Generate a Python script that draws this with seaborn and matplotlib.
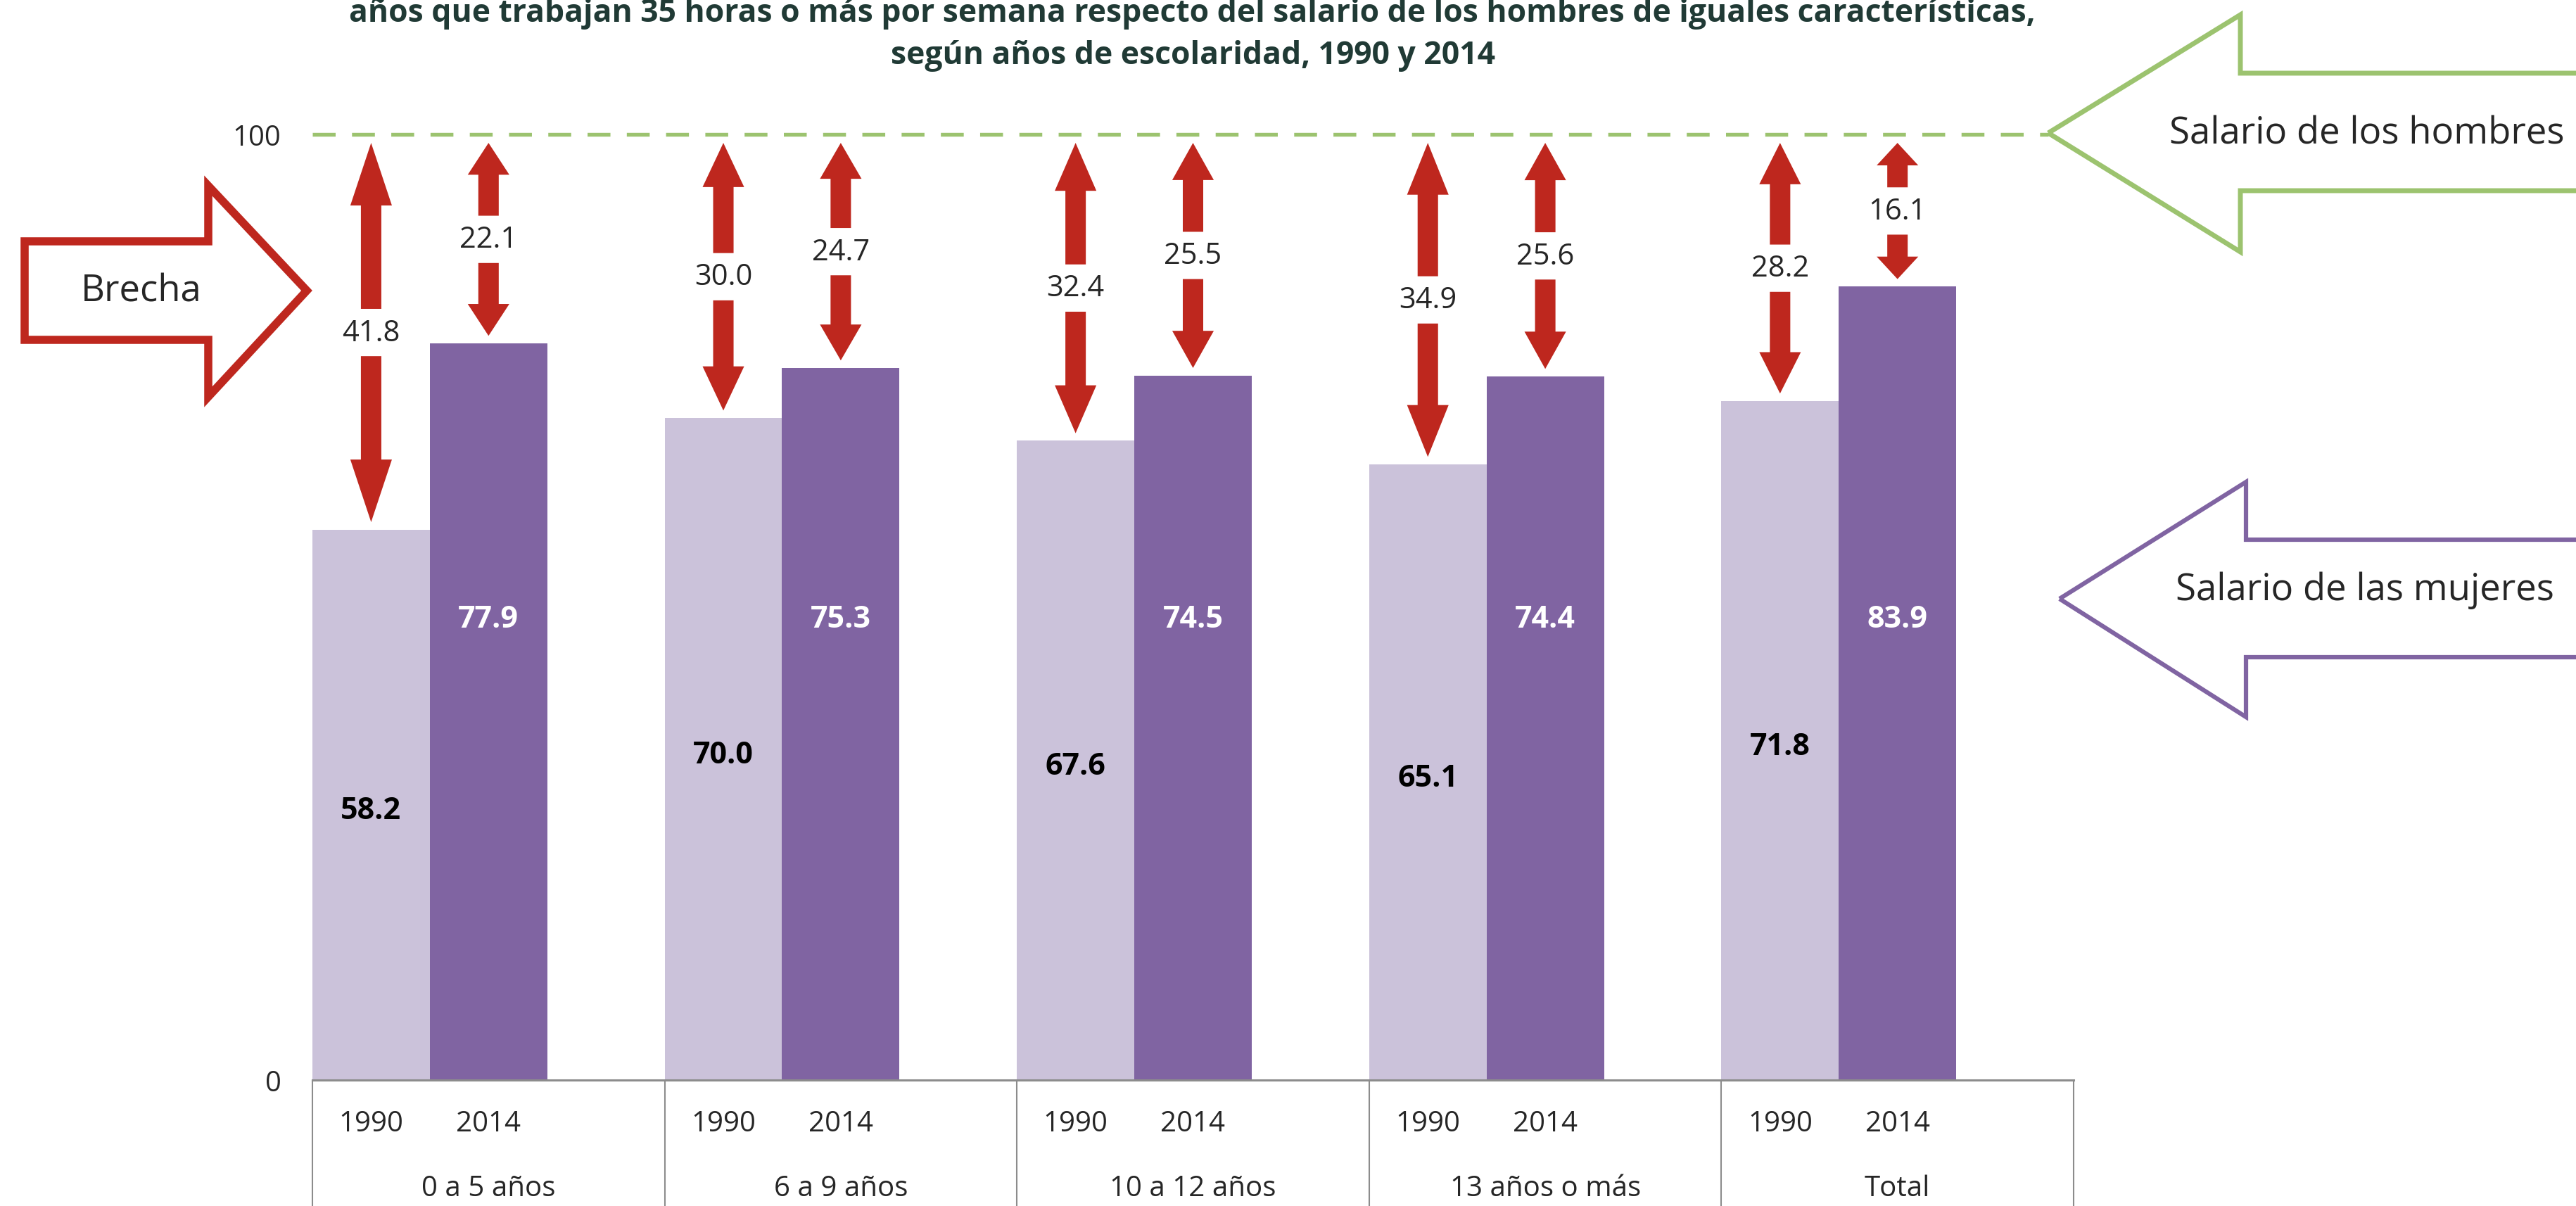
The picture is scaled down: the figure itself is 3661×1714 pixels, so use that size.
import numpy as np
import pandas as pd
import matplotlib
matplotlib.use('Agg')
import matplotlib.pyplot as plt
import matplotlib.transforms as mtransforms
from matplotlib.patches import Polygon
import seaborn as sns

# data
grupos = ['0 a 5 años', '6 a 9 años', '10 a 12 años', '13 años o más', 'Total']
anios = ['1990', '2014']
salario_1990 = [58.2, 70.0, 67.6, 65.1, 71.8]
salario_2014 = [77.9, 75.3, 74.5, 74.4, 83.9]
referencia = 100
titulo_l1 = 'años que trabajan 35 horas o más por semana respecto del salario de los hombres de iguales características,'
titulo_l2 = 'según años de escolaridad, 1990 y 2014'

c_1990 = '#CBC2DA'
c_2014 = '#8064A2'
c_rojo = '#BE271E'
c_verde = '#9CC36F'
c_gris = '#8C8C8C'
c_titulo = '#203A35'

sns.set_style('white')
plt.rcParams['font.family'] = ['Open Sans', 'DejaVu Sans']

W, H = 3662, 1715
PX_Y = 13.44      # pixels per unit on y
YMAX = 110
fig = plt.figure(figsize=(W / 100, H / 100), dpi=100)
ax = fig.add_axes([444 / W, 1 - 1536 / H, 2503 / W, YMAX * PX_Y / H])
ax_h = YMAX * PX_Y

df = pd.DataFrame({
    'grupo': grupos * 2,
    'anio': [anios[0]] * len(grupos) + [anios[1]] * len(grupos),
    'salario': salario_1990 + salario_2014,
})

# third (empty) hue slot keeps the bars in the left two thirds of each group
sns.barplot(data=df, x='grupo', y='salario', hue='anio', order=grupos,
            hue_order=anios + ['_'], palette=[c_1990, c_2014, 'white'],
            width=1.0, gap=0, saturation=1, linewidth=0, errorbar=None,
            legend=False, ax=ax)

ax.set_xlim(-0.5, len(grupos) - 0.5)
ax.set_ylim(0, YMAX)
ax.set_xlabel('')
ax.set_ylabel('')
sns.despine(ax=ax, left=True)
ax.spines['bottom'].set_color(c_gris)
ax.spines['bottom'].set_linewidth(2.2)
ax.set_yticks([0, referencia])
ax.tick_params(axis='y', length=0, pad=32, labelsize=29)
ax.set_xticks([])

trans = mtransforms.blended_transform_factory(ax.transData, ax.transAxes)

# dashed reference line (men's wage = 100)
ax.axhline(referencia, xmin=0, xmax=(2911 - 444) / 2503, color=c_verde,
           lw=3.9, dashes=(6, 4.3))

# group dividers under the axis
for b in np.arange(len(grupos) + 1) - 0.5:
    ax.plot([b, b], [0, -0.13], transform=trans, clip_on=False,
            color=c_gris, lw=1.5)

sw, hw = 0.029, 0.059    # shaft / head half widths (x units)
gap = 2.5                # half gap around the label (y units)
top = 99.1

for k, cont in enumerate(ax.containers[:2]):
    for i, bar in enumerate(cont):
        x = bar.get_x() + bar.get_width() / 2
        v = bar.get_height()
        # year label under each bar
        ax.text(x, -62 / ax_h, anios[k], transform=trans, ha='center',
                va='center', fontsize=29)
        # value inside the bar
        if k == 0:
            ax.text(x, v / 2 - 0.6, f'{v:.1f}', ha='center', va='center',
                    fontsize=31, fontweight='bold', color='black')
        else:
            ax.text(x, 48.8, f'{v:.1f}', ha='center', va='center',
                    fontsize=31, fontweight='bold', color='white')
        # double arrow showing the gap to 100
        bot = v + 0.8
        L = top - bot
        head = 0.165 * L
        mid = (top + bot) / 2
        up = [(x - hw, top - head), (x, top), (x + hw, top - head),
              (x + sw, top - head), (x + sw, mid + gap), (x - sw, mid + gap),
              (x - sw, top - head)]
        dn = [(x - hw, bot + head), (x, bot), (x + hw, bot + head),
              (x + sw, bot + head), (x + sw, mid - gap), (x - sw, mid - gap),
              (x - sw, bot + head)]
        for pts in (up, dn):
            ax.add_patch(Polygon(pts, closed=True, facecolor=c_rojo,
                                 edgecolor='none', zorder=3))
        ax.text(x, mid, f'{referencia - v:.1f}', ha='center', va='center',
                fontsize=30, zorder=4)

for i, g in enumerate(grupos):
    ax.text(i, -154 / ax_h, g, transform=trans, ha='center', va='center',
            fontsize=29)


def px(x, y):
    return (x / W, 1 - y / H)


# callout arrows around the chart
brecha = [(35, 344), (296, 344), (296, 265), (436, 414), (296, 565),
          (296, 484), (35, 484)]
hombres = [(2911, 190), (3184, 22), (3184, 105), (3720, 105), (3720, 272),
           (3184, 272), (3184, 359)]
mujeres = [(2927, 852), (3192, 686), (3192, 768), (3720, 768), (3720, 935),
           (3192, 935), (3192, 1020)]
for pts, col, lw in ((brecha, c_rojo, 8.3), (hombres, c_verde, 5),
                     (mujeres, c_2014, 4.5)):
    fig.add_artist(Polygon([px(*p) for p in pts], closed=True,
                           facecolor='none', edgecolor=col, lw=lw,
                           joinstyle='miter', transform=fig.transFigure))

fig.text(*px(201, 415), 'Brecha', ha='center', va='center', fontsize=38)
fig.text(*px(3364, 191), 'Salario de los hombres', ha='center', va='center',
         fontsize=38)
fig.text(*px(3361, 839), 'Salario de las mujeres', ha='center', va='center',
         fontsize=38)

fig.text(*px(1694, 20), titulo_l1, ha='center', va='center', fontsize=32,
         fontweight='bold', color=c_titulo)
fig.text(*px(1696, 80), titulo_l2, ha='center', va='center', fontsize=32,
         fontweight='bold', color=c_titulo)

fig.savefig('out.png', dpi=100)
